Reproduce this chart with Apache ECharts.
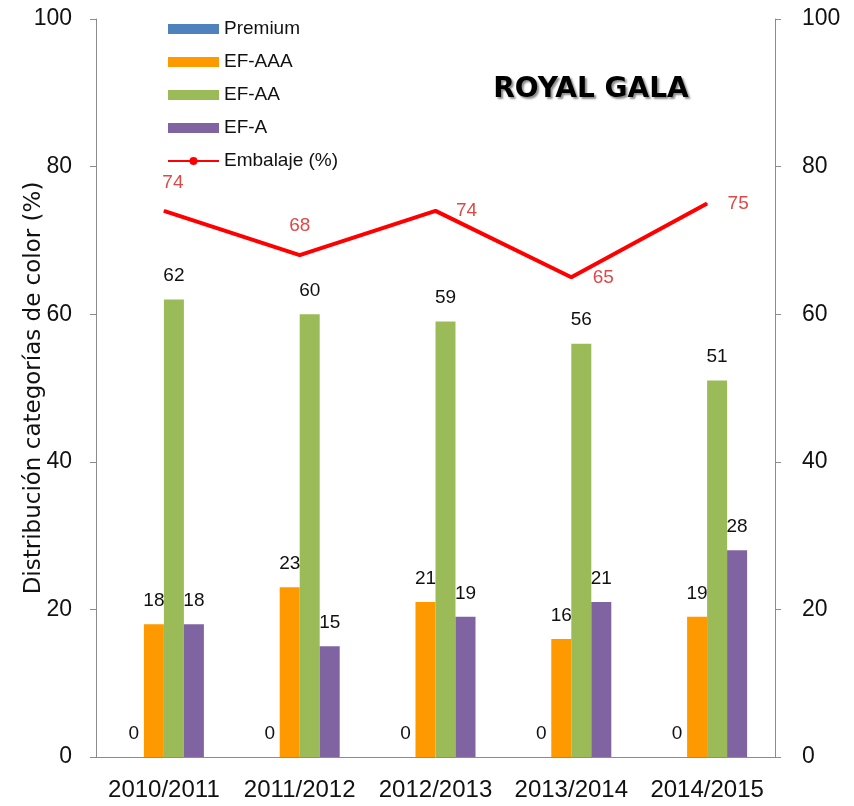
<!DOCTYPE html>
<html>
<head>
<meta charset="utf-8">
<script src="https://cdn.jsdelivr.net/npm/echarts@6/dist/echarts.min.js"></script>
<style>
html,body{margin:0;padding:0;background:#fff;}
#chart{width:854px;height:806px;}
</style>
</head>
<body>
<div id="chart"></div>
<script>
const categories = ['2010/2011', '2011/2012', '2012/2013', '2013/2014', '2014/2015'];
const premium = [0, 0, 0, 0, 0];
const efAAA = [18, 23, 21, 16, 19];
const efAA = [62, 60, 59, 56, 51];
const efA = [18, 15, 19, 21, 28];
const embalaje = [74, 68, 74, 65, 75];
const yTicks = [0, 20, 40, 60, 80, 100];

const FONT = '"Liberation Sans", Arial, sans-serif';
const chart = echarts.init(document.getElementById('chart'), null, {renderer: 'canvas'});

const barLabel = {show: true, position: 'top', distance: 14, color: '#111', fontSize: 19, fontFamily: FONT};

// per-point label placement for the line (matches reference)
const lineLabelPlacement = [
  {position: 'top', distance: 18, offset: [9, 0]},
  {position: 'top', distance: 19},
  {position: 'right', distance: 20},
  {position: 'right', distance: 21},
  {position: 'right', distance: 20}
];
const lineData = embalaje.map((v, i) => ({value: v, label: lineLabelPlacement[i]}));

function valueAxis(pos) {
  return {
    type: 'value', position: pos, min: yTicks[0], max: yTicks[yTicks.length - 1], interval: 20,
    axisLine: {show: true, lineStyle: {color: '#8c8c8c', width: 1}},
    axisTick: {show: true, inside: false, length: 6, lineStyle: {color: '#8c8c8c'}},
    splitLine: {show: false},
    axisLabel: {color: '#111', fontSize: 23, fontFamily: FONT, margin: pos === 'left' ? 24 : 27}
  };
}

const leftAxis = valueAxis('left');
leftAxis.name = 'Distribución categorías de color (%)';
leftAxis.nameLocation = 'middle';
leftAxis.nameRotate = 90;
leftAxis.nameGap = 50;
leftAxis.nameMoveOverlap = false;
leftAxis.nameTextStyle = {color: '#111', fontSize: 23, fontFamily: '"DejaVu Sans", sans-serif'};

const option = {
  backgroundColor: '#fff',
  animation: false,
  title: {
    text: 'ROYAL GALA', left: 586, top: 71, textAlign: 'center',
    textStyle: {
      fontFamily: '"DejaVu Sans", sans-serif', fontWeight: 'bold', fontSize: 28, color: '#000',
      textShadowColor: 'rgba(0,0,0,0.45)', textShadowOffsetX: 2, textShadowOffsetY: 2, textShadowBlur: 2
    }
  },
  legend: {
    orient: 'vertical', left: 162, top: 14, itemWidth: 51, itemHeight: 10, itemGap: 13,
    selectedMode: false,
    textStyle: {fontSize: 19, fontFamily: FONT, color: '#111', lineHeight: 20},
    data: [
      {name: 'Premium', icon: 'rect'},
      {name: 'EF-AAA', icon: 'rect'},
      {name: 'EF-AA', icon: 'rect'},
      {name: 'EF-A', icon: 'rect'},
      {name: 'Embalaje (%)'}
    ]
  },
  grid: {left: 96, right: 79, top: 19, bottom: 49, containLabel: false, outerBoundsMode: 'none'},
  xAxis: {
    type: 'category', data: categories,
    axisLine: {show: true, lineStyle: {color: '#8c8c8c'}},
    axisTick: {show: false},
    axisLabel: {color: '#111', fontSize: 24, fontFamily: FONT, margin: 21, interval: 0}
  },
  yAxis: [leftAxis, valueAxis('right')],
  series: [
    {name: 'Premium', type: 'bar', data: premium, barWidth: 20, barGap: '0%', itemStyle: {color: '#4F81BD'}, label: barLabel},
    {name: 'EF-AAA', type: 'bar', data: efAAA, barWidth: 20, barGap: '0%', itemStyle: {color: '#FF9900'}, label: barLabel},
    {name: 'EF-AA', type: 'bar', data: efAA, barWidth: 20, barGap: '0%', itemStyle: {color: '#9BBB59'}, label: barLabel},
    {name: 'EF-A', type: 'bar', data: efA, barWidth: 20, barGap: '0%', itemStyle: {color: '#8064A2'}, label: barLabel},
    {
      name: 'Embalaje (%)', type: 'line', yAxisIndex: 1, data: lineData,
      symbol: 'circle', symbolSize: 1, showSymbol: true,
      lineStyle: {color: '#FF0000', width: 4}, itemStyle: {color: '#FF0000'},
      label: {show: true, color: '#E04848', fontSize: 19, fontFamily: FONT}
    }
  ]
};
chart.setOption(option);
</script>
</body>
</html>
